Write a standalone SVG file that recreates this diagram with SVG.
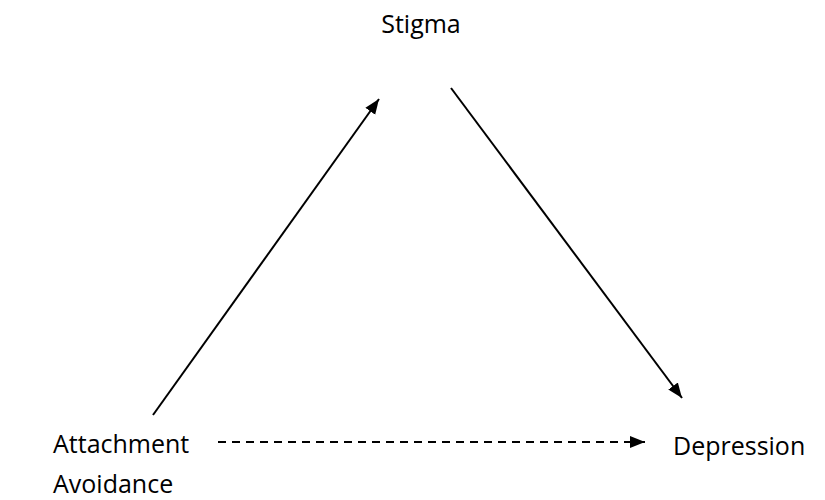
<svg xmlns="http://www.w3.org/2000/svg" width="825" height="500" viewBox="0 0 825 500">
  <style>
    .lbl { font-family: "Open Sans", "Liberation Sans", sans-serif; font-size: 25px; fill: #000; }
    .edge { stroke: #000; stroke-width: 2; fill: none; }
    .dash { stroke-dasharray: 8 6; }
  </style>
  <defs>
    <marker id="arrow" markerUnits="userSpaceOnUse" markerWidth="16" markerHeight="14" refX="15" refY="7" orient="auto">
      <path d="M0,1 L15,7 L0,13 Z" fill="#000"/>
    </marker>
  </defs>
  <rect width="825" height="500" fill="#fff"/>
  <g id="connectors">
    <line class="edge" x1="153" y1="415" x2="379" y2="99" marker-end="url(#arrow)"/>
    <line class="edge" x1="451" y1="88" x2="682" y2="398" marker-end="url(#arrow)"/>
    <line class="edge dash" x1="218" y1="442" x2="645" y2="442" marker-end="url(#arrow)"/>
  </g>
  <g id="stigma">
    <text class="lbl" x="421" y="33" text-anchor="middle">Stigma</text>
  </g>
  <g id="attachment-avoidance">
    <text class="lbl" x="53" y="453">Attachment</text>
    <text class="lbl" x="53" y="493">Avoidance</text>
  </g>
  <g id="depression">
    <text class="lbl" x="673" y="455">Depression</text>
  </g>
</svg>
